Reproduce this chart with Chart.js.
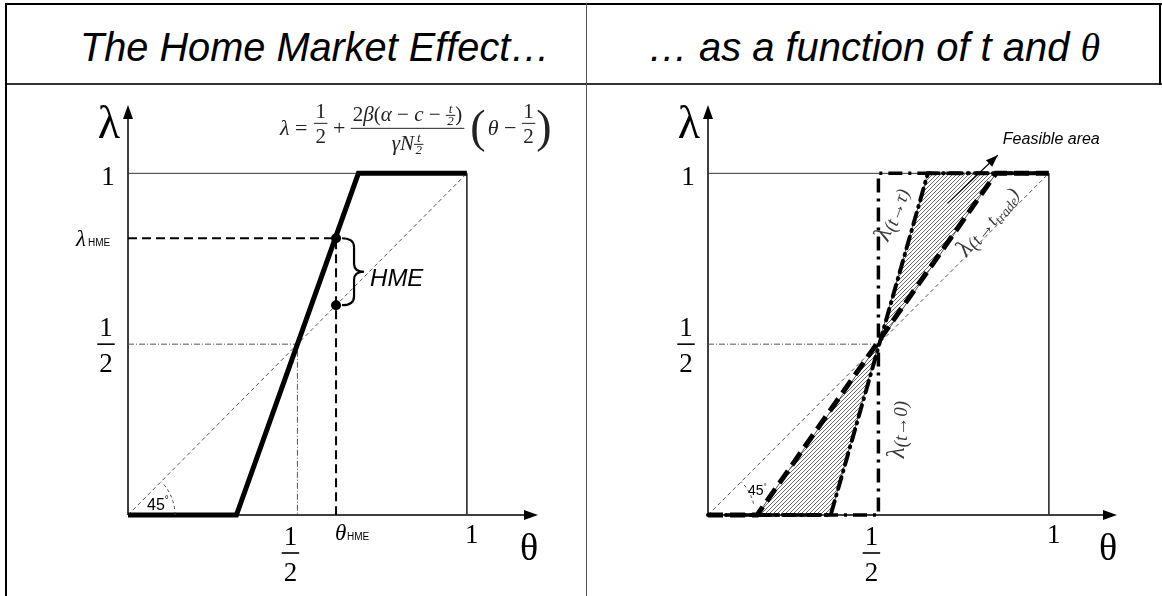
<!DOCTYPE html>
<html>
<head>
<meta charset="utf-8">
<title>The Home Market Effect</title>
<script src="https://cdn.jsdelivr.net/npm/chart.js@4.4.1/dist/chart.umd.min.js"></script>
<style>
  body { margin: 0; background: #fff; }
  #page { position: relative; width: 1162px; height: 596px; overflow: hidden; }
  .rule { position: absolute; background: #000; }
  .title { position: absolute; top: 27px; font: italic 41px "Liberation Sans", Arial, sans-serif; line-height: 41px; white-space: nowrap; transform-origin: 0 0; color: #000; }
  .title .m { font-family: "Liberation Serif", serif; }
  canvas { position: absolute; top: 84px; }
</style>
</head>
<body>
<div id="page">
  <div class="rule" style="left:5px;top:3px;width:1157px;height:2px"></div>
  <div class="rule" style="left:5px;top:83px;width:1157px;height:2px;background:#333"></div>
  <div class="rule" style="left:5px;top:3px;width:2px;height:593px"></div>
  <div class="rule" style="left:1159px;top:3px;width:2px;height:82px"></div>
  <div class="rule" style="left:586px;top:3px;width:1px;height:593px;background:#555"></div>
  <div class="title" data-w="470" style="left:80px">The Home Market Effect…</div>
  <div class="title" data-w="452" style="left:648px">… as a function of t and <span class="m">θ</span></div>
  <canvas id="leftChart" width="580" height="512" style="left:6px"></canvas>
  <canvas id="rightChart" width="575" height="512" style="left:587px"></canvas>
</div>
<script>
// ---- left panel: the home market effect ----
const leftCurveX = [0, 0.32, 0.68, 1];
const leftCurveY = [0, 0, 1, 1];
const diagX = [0, 1];
const diagY = [0, 1];
const boxX = [0, 1, 1];
const boxY = [1, 1, 0];
const halfGuideX = [0, 0.5, 0.5];
const halfGuideY = [0.5, 0.5, 0];
const thetaHME = 0.614;
const lambdaHME = 0.81;
const hmeGuideX = [0, thetaHME, thetaHME];
const hmeGuideY = [lambdaHME, lambdaHME, 0];
const hmeDotsX = [thetaHME, thetaHME];
const hmeDotsY = [lambdaHME, thetaHME];

// ---- right panel: as a function of t and theta ----
const zeroTX = [0, 0.5, 0.5, 1];
const zeroTY = [0, 0, 1, 1];
const tauX = [0, 0.36, 0.645, 1];
const tauY = [0, 0, 1, 1];
const tradeX = [0, 0.144, 0.845, 1];
const tradeY = [0, 0, 1, 1];
const lowerAreaX = [0.144, 0.36, 0.5, 0.144];
const lowerAreaY = [0, 0, 0.5, 0];
const upperAreaX = [0.5, 0.645, 0.845, 0.5];
const upperAreaY = [0.5, 1, 1, 0.5];
const halfLineX = [0, 0.5];
const halfLineY = [0.5, 0.5];
const arrowX = [0.703, 0.85];
const arrowY = [0.912, 1.053];

// tick labels (value, text or fraction)
const xTicks = [[0.5, "1", "2"], [1, "1"]];
const yTicks = [[0.5, "1", "2"], [1, "1"]];

const SERIF = '"Liberation Serif", "DejaVu Serif", serif';
const SANS = '"Liberation Sans", Arial, sans-serif';

function pts(xs, ys) {
  return xs.map((x, i) => ({ x: x, y: ys[i] }));
}

function lineSet(xs, ys, style) {
  return Object.assign({
    type: "line",
    data: pts(xs, ys),
    borderColor: "#000",
    borderWidth: 1,
    pointRadius: 0,
    fill: false,
    tension: 0,
    clip: false,
    borderJoinStyle: "miter",
  }, style);
}

function makeHatch() {
  const c = document.createElement("canvas");
  c.width = 4;
  c.height = 4;
  const g = c.getContext("2d");
  g.strokeStyle = "#5a5a5a";
  g.lineWidth = 0.9;
  g.beginPath();
  g.moveTo(0, 4); g.lineTo(4, 0);
  g.moveTo(-1, 1); g.lineTo(1, -1);
  g.moveTo(3, 5); g.lineTo(5, 3);
  g.stroke();
  return g.createPattern(c, "repeat");
}

// text runs: [text, font, dy] or {frac: [n, d], font}
function runWidth(ctx, run) {
  let w = 0;
  run.forEach((p) => {
    if (p.frac) {
      ctx.font = p.font;
      w += Math.max(ctx.measureText(p.frac[0]).width, ctx.measureText(p.frac[1]).width) + 3;
    } else {
      ctx.font = p[1];
      w += ctx.measureText(p[0]).width;
    }
  });
  return w;
}

function drawRun(ctx, run, x, base) {
  run.forEach((p) => {
    if (p.frac) {
      ctx.font = p.font;
      const w = Math.max(ctx.measureText(p.frac[0]).width, ctx.measureText(p.frac[1]).width) + 3;
      const axis = base - (p.axis || 5);
      ctx.textAlign = "center";
      ctx.fillText(p.frac[0], x + w / 2, axis - (p.up || 2));
      ctx.fillText(p.frac[1], x + w / 2, axis + (p.down || 9));
      ctx.fillRect(x, axis - 0.5, w, 1);
      ctx.textAlign = "left";
      x += w;
    } else {
      ctx.font = p[1];
      ctx.textAlign = "left";
      ctx.fillText(p[0], x, base + (p[2] || 0));
      x += ctx.measureText(p[0]).width;
    }
  });
  return x;
}

function fracLabel(ctx, n, d, cx, barY, size) {
  ctx.font = size + "px " + SERIF;
  ctx.textAlign = "center";
  ctx.textBaseline = "alphabetic";
  const w = Math.max(ctx.measureText(n).width, ctx.measureText(d).width) + 4;
  ctx.fillText(n, cx, barY - 8);
  ctx.fillText(d, cx, barY + 28);
  ctx.fillRect(cx - w / 2, barY - 0.8, w, 1.6);
}

function drawAxes(chart) {
  const ctx = chart.ctx;
  const xs = chart.scales.x, ys = chart.scales.y;
  const x0 = xs.getPixelForValue(0), y0 = ys.getPixelForValue(0);
  const xe = xs.getPixelForValue(xs.max), ye = ys.getPixelForValue(ys.max);
  ctx.save();
  ctx.strokeStyle = "#000";
  ctx.fillStyle = "#000";
  ctx.lineWidth = 1.5;
  ctx.beginPath();
  ctx.moveTo(x0, y0); ctx.lineTo(xe - 10, y0);
  ctx.moveTo(x0, y0); ctx.lineTo(x0, ye + 10);
  ctx.stroke();
  ctx.beginPath();
  ctx.moveTo(xe, y0); ctx.lineTo(xe - 14, y0 - 5); ctx.lineTo(xe - 14, y0 + 5); ctx.closePath();
  ctx.moveTo(x0, ye); ctx.lineTo(x0 - 5, ye + 14); ctx.lineTo(x0 + 5, ye + 14); ctx.closePath();
  ctx.fill();
  ctx.restore();
}

function drawTicks(chart) {
  const ctx = chart.ctx;
  const xs = chart.scales.x, ys = chart.scales.y;
  const x0 = xs.getPixelForValue(0), y0 = ys.getPixelForValue(0);
  ctx.fillStyle = "#000";
  ctx.textBaseline = "alphabetic";
  xTicks.forEach((t) => {
    const px = xs.getPixelForValue(t[0]);
    if (t.length === 3) {
      fracLabel(ctx, t[1], t[2], px - 7, y0 + 38, 27);
    } else {
      ctx.font = "27px " + SERIF;
      ctx.textAlign = "center";
      ctx.fillText(t[1], px + 5, y0 + 28);
    }
  });
  yTicks.forEach((t) => {
    const py = ys.getPixelForValue(t[0]);
    if (t.length === 3) {
      fracLabel(ctx, t[1], t[2], x0 - 22, py, 27);
    } else {
      ctx.font = "27px " + SERIF;
      ctx.textAlign = "center";
      ctx.fillText(t[1], x0 - 20, py + 12);
    }
  });
  // axis names
  ctx.textAlign = "center";
  ctx.font = "46px " + SERIF;
  ctx.fillText("λ", x0 - 19, ys.getPixelForValue(ys.max) + 33);
  ctx.font = "38px " + SERIF;
  ctx.fillText("θ", xs.getPixelForValue(xs.max) - 9, y0 + 45);
}

function drawAngle(ctx, x0, y0, from, to, lx, ly, size) {
  ctx.save();
  ctx.strokeStyle = "#444";
  ctx.lineWidth = 1;
  ctx.setLineDash([3, 3]);
  ctx.beginPath();
  ctx.arc(x0, y0, 47, -from * Math.PI / 180, -to * Math.PI / 180, true);
  ctx.stroke();
  ctx.restore();
  ctx.font = size + "px " + SANS;
  ctx.textAlign = "left";
  ctx.fillStyle = "#000";
  ctx.fillText("45", lx, ly);
  const w = ctx.measureText("45").width;
  ctx.font = Math.round(size * 0.6) + "px " + SANS;
  ctx.fillText("°", lx + w, ly - size * 0.45);
}

function drawLeft(chart) {
  const ctx = chart.ctx;
  const xs = chart.scales.x, ys = chart.scales.y;
  const X = (v) => xs.getPixelForValue(v), Y = (v) => ys.getPixelForValue(v);
  ctx.save();
  drawTicks(chart);

  // theta_HME and lambda_HME labels
  ctx.textAlign = "left";
  ctx.font = "italic 23px " + SERIF;
  ctx.fillText("θ", X(thetaHME) - 1, Y(0) + 25);
  ctx.font = "10px " + SANS;
  ctx.fillText("HME", X(thetaHME) + 11, Y(0) + 25);
  ctx.font = "italic 23px " + SERIF;
  ctx.fillText("λ", X(0) - 52, Y(lambdaHME) + 8);
  ctx.font = "10px " + SANS;
  ctx.fillText("HME", X(0) - 40, Y(lambdaHME) + 8);

  // brace between the two dots
  const yT = Y(lambdaHME), yB = Y(thetaHME), ym = (yT + yB) / 2;
  const a = X(thetaHME) + 6, b = X(thetaHME) + 18, c = X(thetaHME) + 28;
  ctx.strokeStyle = "#000";
  ctx.lineWidth = 2.2;
  ctx.beginPath();
  ctx.moveTo(a, yT);
  ctx.quadraticCurveTo(b, yT, b, yT + 9);
  ctx.lineTo(b, ym - 8);
  ctx.quadraticCurveTo(b, ym, c, ym);
  ctx.quadraticCurveTo(b, ym, b, ym + 8);
  ctx.lineTo(b, yB - 9);
  ctx.quadraticCurveTo(b, yB, a, yB);
  ctx.stroke();
  ctx.font = "italic 24px " + SANS;
  ctx.fillText("HME", X(thetaHME) + 34, ym + 14);

  drawAngle(ctx, X(0), Y(0), 0, 45, X(0) + 19, Y(0) - 5, 16);

  // formula
  const it = (s) => "italic " + s + "px " + SERIF;
  const up = (s) => s + "px " + SERIF;
  const my = Y(1) - 45;
  let x = X(0) + 152;
  ctx.fillStyle = "#222";
  ctx.textBaseline = "alphabetic";
  x = drawRun(ctx, [["λ", it(22)], [" = ", up(22)]], x, my + 7);
  x = drawRun(ctx, [{ frac: ["1", "2"], font: up(21), axis: 0, up: 5, down: 20 }], x + 1, my);
  x = drawRun(ctx, [[" + ", up(22)]], x, my + 7);
  const num = [["2", up(21)], ["β", it(21)], ["(", up(21)], ["α", it(21)], [" − ", up(21)], ["c", it(21)], [" − ", up(21)],
    { frac: ["t", "2"], font: it(13), axis: 6, up: 2, down: 10 }, [")", up(21)]];
  const den = [["γN", it(21)], { frac: ["t", "2"], font: it(13), axis: 6, up: 2, down: 10 }];
  const wn = runWidth(ctx, num), wd = runWidth(ctx, den), wb = Math.max(wn, wd) + 4;
  drawRun(ctx, num, x + (wb - wn) / 2, my - 7);
  drawRun(ctx, den, x + (wb - wd) / 2, my + 22);
  ctx.fillRect(x, my - 0.5, wb, 1);
  x += wb + 6;
  x = drawRun(ctx, [["(", up(46), 4]], x, my + 10);
  x = drawRun(ctx, [["θ", it(22)], [" − ", up(22)]], x + 2, my + 7);
  x = drawRun(ctx, [{ frac: ["1", "2"], font: up(21), axis: 0, up: 5, down: 20 }], x, my);
  drawRun(ctx, [[")", up(46), 4]], x + 1, my + 10);
  ctx.restore();
}

function rotLabel(ctx, x, y, deg, run) {
  ctx.save();
  ctx.translate(x, y);
  ctx.rotate(deg * Math.PI / 180);
  ctx.fillStyle = "#3a3a3a";
  ctx.textBaseline = "alphabetic";
  const w = runWidth(ctx, run);
  drawRun(ctx, run, -w / 2, 6);
  ctx.restore();
}

function drawRight(chart) {
  const ctx = chart.ctx;
  const xs = chart.scales.x, ys = chart.scales.y;
  const X = (v) => xs.getPixelForValue(v), Y = (v) => ys.getPixelForValue(v);
  ctx.save();
  drawTicks(chart);
  drawAngle(ctx, X(0), Y(0), 14, 45, X(0) + 40, Y(0) - 20, 14);

  const lam = ["λ", "italic 25px " + SERIF];
  const sub = (s) => [s, "italic 19px " + SERIF, 3];
  rotLabel(ctx, X(0.54), Y(0.88), -70, [lam, sub("(t→τ)")]);
  rotLabel(ctx, X(0.82), Y(0.86), -52, [lam, sub("(t→t"), ["trade", "italic 14px " + SERIF, 7], sub(")")]);
  rotLabel(ctx, X(0.556), Y(0.25), -90, [lam, sub("(t→0)")]);

  // arrow head of the "Feasible area" pointer
  const x1 = X(arrowX[0]), y1 = Y(arrowY[0]), x2 = X(arrowX[1]), y2 = Y(arrowY[1]);
  const ang = Math.atan2(y2 - y1, x2 - x1);
  ctx.fillStyle = "#000";
  ctx.beginPath();
  ctx.moveTo(x2, y2);
  ctx.lineTo(x2 - 12 * Math.cos(ang) + 4.5 * Math.sin(ang), y2 - 12 * Math.sin(ang) - 4.5 * Math.cos(ang));
  ctx.lineTo(x2 - 12 * Math.cos(ang) - 4.5 * Math.sin(ang), y2 - 12 * Math.sin(ang) + 4.5 * Math.cos(ang));
  ctx.closePath();
  ctx.fill();
  ctx.font = "italic 16px " + SANS;
  ctx.textAlign = "left";
  ctx.textBaseline = "middle";
  ctx.fillText("Feasible area", X(0.865), Y(1.099));
  ctx.restore();
}

const decor = {
  id: "decor",
  beforeDatasetsDraw(chart) {
    drawAxes(chart);
  },
  afterDatasetsDraw(chart, args, opts) {
    if (opts.side === "left") drawLeft(chart);
    else drawRight(chart);
  },
};

function options(xMax, yMax, pad, side) {
  return {
    responsive: false,
    animation: false,
    devicePixelRatio: 1,
    events: [],
    layout: { padding: pad },
    scales: {
      x: { type: "linear", min: 0, max: xMax, display: false },
      y: { type: "linear", min: 0, max: yMax, display: false },
    },
    plugins: { legend: { display: false }, tooltip: { enabled: false }, decor: { side: side } },
  };
}

const thin = { borderWidth: 1, borderColor: "#333" };
const dashThin = { borderWidth: 1, borderColor: "#555", borderDash: [4, 3] };
const dashDotThin = { borderWidth: 1, borderColor: "#555", borderDash: [6, 2, 1, 2] };

new Chart(document.getElementById("leftChart"), {
  type: "line",
  data: {
    datasets: [
      lineSet(hmeDotsX, hmeDotsY, { showLine: false, pointRadius: 5, pointBackgroundColor: "#000", pointBorderWidth: 0 }),
      lineSet(leftCurveX, leftCurveY, { borderWidth: 5 }),
      lineSet(hmeGuideX, hmeGuideY, { borderWidth: 2, borderDash: [9, 5] }),
      lineSet(diagX, diagY, dashThin),
      lineSet(halfGuideX, halfGuideY, dashDotThin),
      lineSet(boxX, boxY, thin),
    ],
  },
  options: options(1.21, 1.2, { left: 122, right: 48, top: 21, bottom: 81 }, "left"),
  plugins: [decor],
});

const hatch = makeHatch();

new Chart(document.getElementById("rightChart"), {
  type: "line",
  data: {
    datasets: [
      lineSet(arrowX, arrowY, { borderWidth: 1.2 }),
      lineSet(tradeX, tradeY, { borderWidth: 5, borderDash: [15, 7] }),
      lineSet(tauX, tauY, { borderWidth: 4, borderDash: [12, 6, 1, 6], borderCapStyle: "round" }),
      lineSet(zeroTX, zeroTY, { borderWidth: 3.5, borderDash: [14, 6, 3, 6] }),
      lineSet(upperAreaX, upperAreaY, { borderWidth: 1, borderColor: "#555", backgroundColor: hatch, fill: "shape" }),
      lineSet(lowerAreaX, lowerAreaY, { borderWidth: 1, borderColor: "#555", backgroundColor: hatch, fill: "shape" }),
      lineSet(diagX, diagY, dashThin),
      lineSet(halfLineX, halfLineY, dashDotThin),
      lineSet(boxX, boxY, thin),
    ],
  },
  options: options(1.2, 1.2, { left: 121, right: 45, top: 21, bottom: 81 }, "right"),
  plugins: [decor],
});

// squeeze the titles to the width of the original lettering
document.querySelectorAll(".title").forEach((el) => {
  const w = el.getBoundingClientRect().width;
  el.style.transform = "scaleX(" + (Number(el.dataset.w) / w) + ")";
});
</script>
</body>
</html>
